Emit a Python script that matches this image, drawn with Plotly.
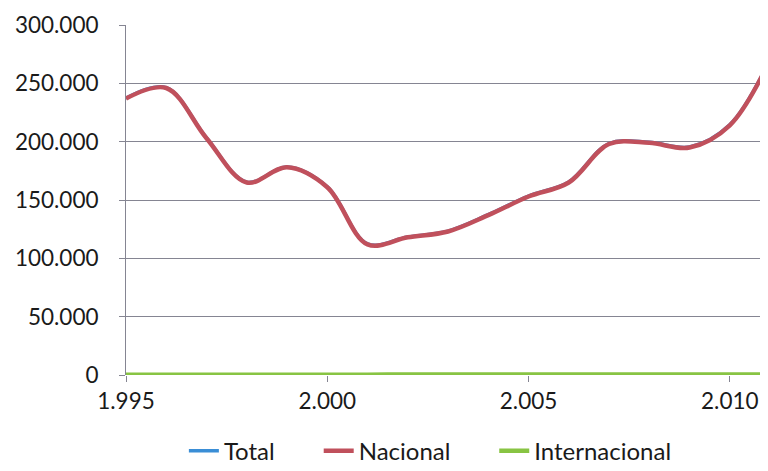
import plotly.graph_objects as go

years = [1995, 1996, 1997, 1998, 1999, 2000, 2001, 2002, 2003, 2004,
         2005, 2006, 2007, 2008, 2009, 2010, 2011]
nacional = [237000, 246000, 203000, 165000, 178000, 161000, 112000, 118000, 123000, 137000,
            153000, 165000, 198000, 199000, 195000, 214000, 270000]
internacional = [200, 220, 240, 260, 280, 300, 320, 340, 360, 380,
                 400, 420, 440, 460, 480, 500, 520]
total = [237200, 246220, 203240, 165260, 178280, 161300, 112320, 118340, 123360, 137380,
         153400, 165420, 198440, 199460, 195480, 214500, 270520]

x_tickvals = [1995, 2000, 2005, 2010]
x_ticktext = ["1.995", "2.000", "2.005", "2.010"]
y_tickvals = [0, 50000, 100000, 150000, 200000, 250000, 300000]
y_ticktext = ["0", "50.000", "100.000", "150.000", "200.000", "250.000", "300.000"]

FONT = "Lato, 'Open Sans', sans-serif"
GRID = "#858592"
TXT = "#1a1a1a"

fig = go.Figure()
fig.add_trace(go.Scatter(x=years, y=total, name="Total", mode="lines", legend="legend",
                         line=dict(color="#3A8ED6", width=3.5, shape="spline", smoothing=1.0)))
fig.add_trace(go.Scatter(x=years, y=nacional, name="Nacional", mode="lines", legend="legend2",
                         line=dict(color="#C0505C", width=4.5, shape="spline", smoothing=1.0)))
fig.add_trace(go.Scatter(x=years, y=internacional, name="Internacional", mode="lines", legend="legend3",
                         line=dict(color="#88C443", width=4.5, shape="spline", smoothing=1.0)))

leg_common = dict(orientation="h", xanchor="left", y=-0.153, yanchor="top",
                  font=dict(family=FONT, size=24, color=TXT), bgcolor="rgba(0,0,0,0)")

# page body has an 8px default margin; size the figure so it fits the 768x471 window
fig.update_layout(
    width=760, height=463,
    margin=dict(l=118, r=6, t=17, b=96, autoexpand=False),
    paper_bgcolor="white", plot_bgcolor="white",
    font=dict(family=FONT, size=22.5, color=TXT),
    separators=",.",
    showlegend=True,
    legend=dict(x=0.091, **leg_common),
    legend2=dict(x=0.303, **leg_common),
    legend3=dict(x=0.579, **leg_common),
)
fig.update_xaxes(range=[1995, 2010.8], tickvals=x_tickvals, ticktext=x_ticktext,
                 showgrid=False, zeroline=False, showline=False, automargin=False,
                 ticks="outside", ticklen=6, tickcolor=GRID, tickwidth=1,
                 tickfont=dict(family=FONT, size=22.5, color=TXT))
fig.update_yaxes(range=[0, 300000], tickvals=y_tickvals, ticktext=y_ticktext,
                 showgrid=True, gridcolor=GRID, gridwidth=1, automargin=False,
                 zeroline=False, showline=True, linecolor=GRID, linewidth=1,
                 ticks="outside", ticklen=6, tickcolor=GRID, tickwidth=1,
                 ticklabelstandoff=16,
                 tickfont=dict(family=FONT, size=22.5, color=TXT))

fig.write_html("out.html")
